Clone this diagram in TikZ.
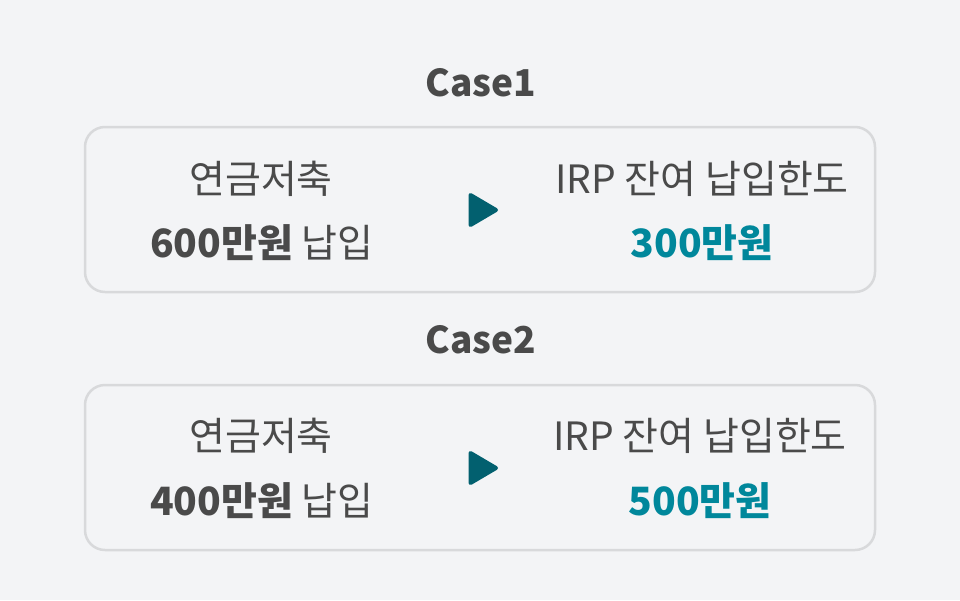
\documentclass[tikz,border=0pt]{standalone}
\usepackage{fontspec}
\setmainfont{Noto Sans CJK KR}
\definecolor{bg}{HTML}{F3F4F6}
\definecolor{boxline}{HTML}{D8D9DB}
\definecolor{txt}{HTML}{4A4A4A}
\definecolor{teal}{HTML}{00879B}
\definecolor{darkteal}{HTML}{02606F}
\tikzset{
  casebox/.style={draw=boxline, line width=2.5pt, rounded corners=20pt, fill=bg},
  title/.style={font=\fontsize{37}{40}\selectfont\bfseries, text=txt, inner sep=0pt, anchor=center},
  label/.style={font=\fontsize{39}{44}\selectfont, text=txt, inner sep=0pt, anchor=center},
  amount/.style={font=\fontsize{39}{44}\selectfont\bfseries, text=teal, inner sep=0pt, anchor=center},
  tri/.style={fill=darkteal, draw=darkteal, line width=4pt, line join=round}
}
\begin{document}
\begin{tikzpicture}[x=1pt,y=-1pt]
\fill[bg] (0,0) rectangle (960,600);
\useasboundingbox (0,0) rectangle (960,600);
% Case 1
\node[title] (t1) at (481,83) {Case1};
\draw[casebox] (85,127) rectangle (875,292);
\node[label] (a1) at (261,179) {연금저축};
\node[label] (b1) at (262,243) {\textbf{600만원} 납입};
\node[label] (c1) at (702,179) {IRP 잔여 납입한도};
\node[amount] (d1) at (702,243) {300만원};
\draw[tri] (470.5,195) -- (470.5,225) -- (496,210) -- cycle;
% Case 2
\node[title] (t2) at (481,340) {Case2};
\draw[casebox] (85,385) rectangle (875,550);
\node[label] (a2) at (261,436) {연금저축};
\node[label] (b2) at (262,501) {\textbf{400만원} 납입};
\node[label] (c2) at (700,436) {IRP 잔여 납입한도};
\node[amount] (d2) at (700,501) {500만원};
\draw[tri] (470.5,453) -- (470.5,483) -- (496,468) -- cycle;
\end{tikzpicture}
\end{document}
